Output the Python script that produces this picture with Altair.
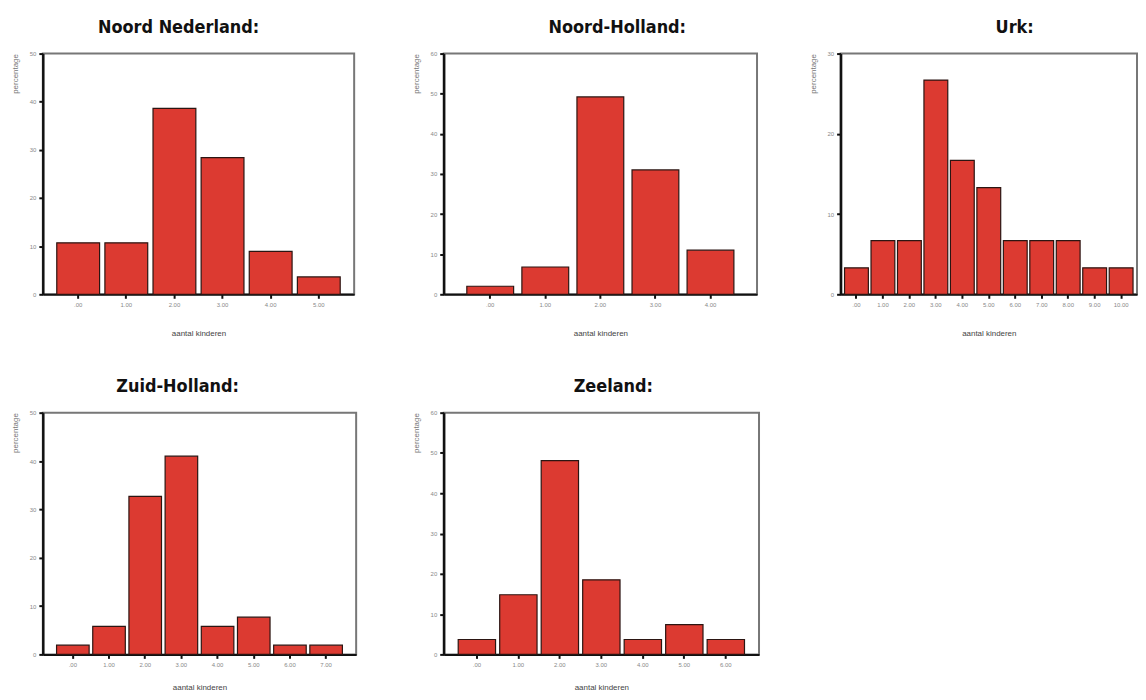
import altair as alt
import pandas as pd

# ---- data (percentages) ----
titles = ["Noord Nederland:", "Noord-Holland:", "Urk:", "Zuid-Holland:", "Zeeland:"]

nn_cats = [0, 1, 2, 3, 4, 5]
nn_vals = [10.7, 10.7, 38.6, 28.4, 8.9, 3.6]

nh_cats = [0, 1, 2, 3, 4]
nh_vals = [2.0, 6.8, 49.2, 31.0, 11.0]

urk_cats = [0, 1, 2, 3, 4, 5, 6, 7, 8, 9, 10]
urk_vals = [3.3, 6.7, 6.7, 26.7, 16.7, 13.3, 6.7, 6.7, 6.7, 3.3, 3.3]

zh_cats = [0, 1, 2, 3, 4, 5, 6, 7]
zh_vals = [1.9, 5.8, 32.7, 41.0, 5.8, 7.7, 1.9, 1.9]

ze_cats = [0, 1, 2, 3, 4, 5, 6]
ze_vals = [3.7, 14.8, 48.1, 18.5, 3.7, 7.4, 3.7]

x_title = "aantal kinderen"
y_title = "percentage"

RED = "#dc3a31"
TITLE_FONT = "Liberation Sans Narrow, DejaVu Sans Condensed, Liberation Sans, sans-serif"


def lab(c):
    s = f"{c:.2f}"
    return s[1:] if s.startswith("0") else s


def panel(title, cats, vals, ymax, width, height, extent, pi, po, dx, xtp):
    df = pd.DataFrame({"kind": [lab(c) for c in cats], "pct": vals})
    order = [lab(c) for c in cats]
    return (
        alt.Chart(
            df,
            title=alt.TitleParams(
                title, dx=dx, fontSize=18, font=TITLE_FONT, fontWeight="bold",
                color="#111", offset=14, anchor="middle",
            ),
        )
        .mark_bar(color=RED, stroke="#2b1512", strokeWidth=1.2)
        .encode(
            x=alt.X(
                "kind:N", sort=order,
                scale=alt.Scale(paddingInner=pi, paddingOuter=po),
                axis=alt.Axis(
                    title=x_title, labelAngle=0, labelFontSize=6, labelColor="#888",
                    tickColor="#111", tickSize=4, tickWidth=2, domainColor="#111",
                    domainWidth=2, labelPadding=3, titleFontSize=8,
                    titleFontWeight="normal", titleColor="#444", titlePadding=xtp,
                ),
            ),
            y=alt.Y(
                "pct:Q",
                scale=alt.Scale(domain=[0, ymax], nice=False),
                axis=alt.Axis(
                    values=list(range(0, ymax + 1, 10)), title=y_title, grid=False,
                    labelFontSize=6, labelColor="#888", tickColor="#111", tickSize=4,
                    tickWidth=2, domainColor="#111", domainWidth=2.5, labelPadding=3,
                    titleFontSize=8, titleFontWeight="normal", titleColor="#777",
                    titleX=-27, titleY=0, titleAngle=270, titleAlign="right",
                    titleBaseline="middle", minExtent=extent, maxExtent=extent,
                ),
            ),
        )
        .properties(
            width=width, height=height,
            view=alt.ViewBackground(stroke="#777777", strokeWidth=2),
        )
    )


top = alt.hconcat(
    panel(titles[0], nn_cats, nn_vals, 50, 313, 242, 34, 0.11, 0.29, -20, 22),
    panel(titles[1], nh_cats, nh_vals, 60, 315, 242, 37, 0.15, 0.42, 17, 22),
    panel(titles[2], urk_cats, urk_vals, 30, 298, 242, 31, 0.1, 0.15, 26, 22),
    spacing=51,
)
bottom = alt.hconcat(
    panel(titles[3], zh_cats, zh_vals, 50, 315, 243, 34, 0.1, 0.38, -22, 16),
    panel(titles[4], ze_cats, ze_vals, 60, 317, 243, 35, 0.1, 0.35, 12, 16),
    spacing=51,
)

chart = (
    alt.vconcat(top, bottom, spacing=39)
    .properties(padding={"left": 0, "top": 8, "right": 0, "bottom": 0})
    .configure(background="white")
)

chart.save("out.html", embed_options={"renderer": "svg", "actions": False})
